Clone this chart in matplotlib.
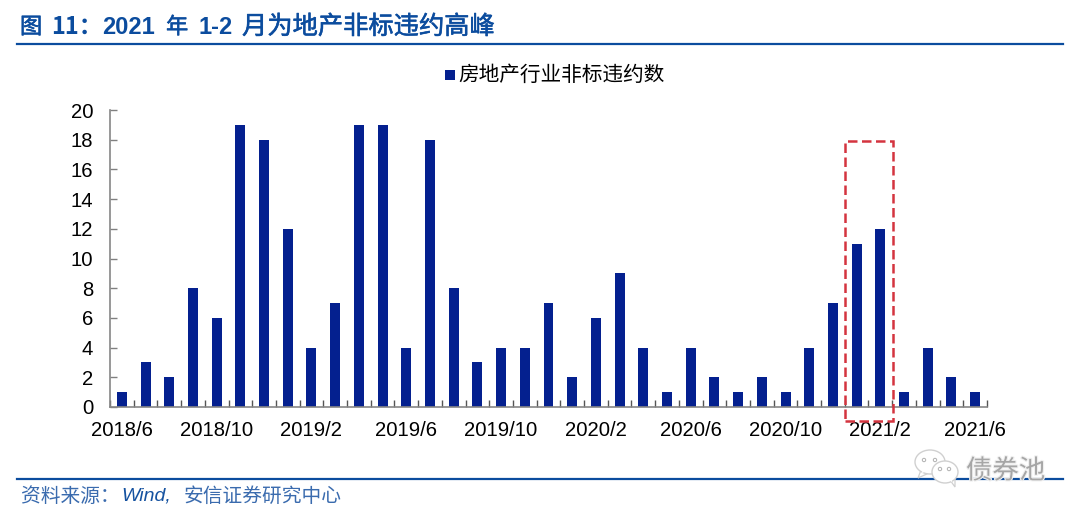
import matplotlib
matplotlib.use("Agg")
import matplotlib.pyplot as plt
from matplotlib.lines import Line2D
from matplotlib.patches import Rectangle, Ellipse, Polygon
import matplotlib.patheffects as pe

W, H = 1080, 518
CJK = ['Noto Sans CJK SC', 'Liberation Sans', 'DejaVu Sans']
plt.rcParams['font.family'] = ['Liberation Sans', 'Noto Sans CJK SC', 'DejaVu Sans']

months = ['2018/6','2018/7','2018/8','2018/9','2018/10','2018/11','2018/12','2019/1','2019/2','2019/3',
          '2019/4','2019/5','2019/6','2019/7','2019/8','2019/9','2019/10','2019/11','2019/12','2020/1',
          '2020/2','2020/3','2020/4','2020/5','2020/6','2020/7','2020/8','2020/9','2020/10','2020/11',
          '2020/12','2021/1','2021/2','2021/3','2021/4','2021/5','2021/6']
defaults = [1,3,2,8,6,19,18,12,4,7,19,19,4,18,8,3,4,4,7,2,6,9,4,1,4,2,1,2,1,4,7,11,12,1,4,2,1]
series_name = '房地产行业非标违约数'
source_a = '资料来源：'
source_b = 'Wind,'
source_c = '安信证券研究中心'
watermark = '债券池'

BAR = '#04208F'
BLUE = '#0B4C9E'
fig = plt.figure(figsize=(W/100, H/100), dpi=100, facecolor='white')
ax = fig.add_axes([110/W, 1-407/H, 877/W, 297/H])
x = list(range(len(months)))
ax.bar(x, defaults, width=0.42, color=BAR, zorder=2)
ax.set_xlim(-0.5, len(months)-0.5)
ax.set_ylim(0, 20)
ax.set_yticks(range(0, 21, 2))
ax.set_xticks(x[::4])
ax.set_xticklabels(months[::4])
ax.set_xticks([i-0.5 for i in range(len(months)+1)], minor=True)
ax.tick_params(axis='x', which='major', length=0, pad=10, labelsize=14.6, colors='black')
ax.tick_params(axis='x', which='minor', direction='in', length=5, width=1, color='#555555')
ax.tick_params(axis='y', direction='in', length=5, width=1, color='#808080', pad=12, labelsize=14.6)
for s in ['top', 'right']:
    ax.spines[s].set_visible(False)
for s in ['left', 'bottom']:
    ax.spines[s].set_color('#868686')
    ax.spines[s].set_linewidth(1.2)

# highlight box
ax.add_patch(Rectangle((30.52, -0.94), 2.02, 18.86, fill=False, ec='#D4343F', lw=1.8,
                       ls=(0, (3.8, 1.8)), clip_on=False, zorder=5))

def T(px, py, s, **kw):
    return fig.text(px/W, 1-py/H, s, va='center', **kw)

# legend
fig.add_artist(Rectangle((445/W, 1-80/H), 10/W, 10/H, transform=fig.transFigure, fc=BAR, ec='none'))
T(458, 75, series_name, fontsize=14.9, family=CJK, color='black')

# title, written in runs because the reference spaces its glyphs widely
thin = [pe.withStroke(linewidth=0.4, foreground=BLUE)]
T(20, 27, '图', fontsize=16, family=CJK, color=BLUE, path_effects=thin)
T(51, 27, '11：', fontsize=17, family=CJK, color=BLUE, fontweight='bold')
T(102, 27, '2021', fontsize=17, family='Liberation Sans', color=BLUE, fontweight='bold')
T(166, 27, '年', fontsize=16, family=CJK, color=BLUE, path_effects=thin)
T(198, 27, '1-2', fontsize=17, family='Liberation Sans', color=BLUE, fontweight='bold')
T(242, 27, '月为地产非标违约高峰', fontsize=18.2, family=CJK, color=BLUE, path_effects=thin)

fig.add_artist(Line2D([17/W, 1063/W], [1-44/H]*2, color=BLUE, lw=1.6))
fig.add_artist(Line2D([17/W, 1063/W], [1-479/H]*2, color=BLUE, lw=1.6))

# source
src_col = '#3A6BAE'
T(21, 496, source_a, fontsize=14.2, family=CJK, color=src_col)
T(121, 496, source_b, fontsize=14.0, family='Liberation Sans', style='italic', color='#1552A0')
T(184, 496, source_c, fontsize=14.2, family=CJK, color=src_col)

# watermark
EDGE = '#D0D0D0'
def bubble(cx, cy, rx, ry, tail):
    fig.add_artist(Polygon([((cx+a)/W, 1-(cy+b)/H) for a, b in tail], transform=fig.transFigure,
                           fc='white', ec=EDGE, lw=0.9, zorder=8))
    fig.add_artist(Ellipse((cx/W, 1-cy/H), 2*rx/W, 2*ry/H, transform=fig.transFigure,
                           fc='white', ec=EDGE, lw=1.0, zorder=8))
    fig.add_artist(Polygon([((cx+a*0.7)/W, 1-(cy+b*0.7)/H) for a, b in tail], transform=fig.transFigure,
                           fc='white', ec='none', zorder=8))
def dots(pts):
    for px, py in pts:
        fig.add_artist(Ellipse((px/W, 1-py/H), 3.4/W, 3.4/H, transform=fig.transFigure,
                               fc='white', ec='#B0B0B0', lw=0.7, zorder=9))
bubble(930, 462, 15, 12, [(-9, 8), (-12, 16), (-1, 11)])
dots([(924, 460), (935, 460)])
bubble(945, 472, 13, 11, [(5, 8), (10, 15), (10, 6)])
dots([(940, 469), (949, 469)])
T(966, 471, watermark, fontsize=19, family=CJK, color='#A6A6A6', zorder=9,
  path_effects=[pe.withStroke(linewidth=1.6, foreground='#EFEFEF')])

fig.savefig('out.png', dpi=100, facecolor='white')
